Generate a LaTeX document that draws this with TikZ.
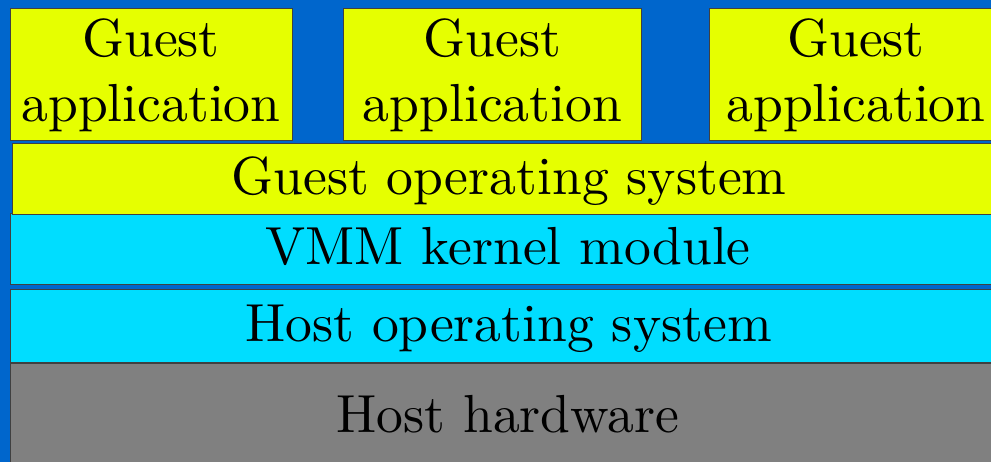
\documentclass[tikz,border=0pt]{standalone}
\usepackage{fontspec}
\setmainfont{lmroman10-regular.otf}
\usepackage{xcolor}
\definecolor{bgblue}{HTML}{0066CC}
\definecolor{guesty}{HTML}{E6FF00}
\definecolor{vmmc}{HTML}{00DDFF}
\definecolor{hwgray}{HTML}{808080}
\begin{document}
\begin{tikzpicture}[x=1pt,y=-1pt,
  layer/.style={draw=black!75, line width=0.8pt, inner sep=0pt},
  guest/.style={layer, fill=guesty},
  vmm/.style={layer, fill=vmmc},
  hw/.style={layer, fill=hwgray},
  lbl/.style={inner sep=0pt, anchor=base, font=\fontsize{53.6}{64}\selectfont}]
\useasboundingbox (0,0) rectangle (991,462);
\clip (0,0) rectangle (991,462);
\fill[bgblue] (0,0) rectangle (991,462);
% boxes
\node[guest, minimum width=282, minimum height=132] (app1) at (151,74) {};
\node[guest, minimum width=298, minimum height=132] (app2) at (492,74) {};
\node[guest, minimum width=294, minimum height=132] (app3) at (856,74) {};
\node[vmm, minimum width=998, minimum height=71] (vmm) at (509,248.5) {};
\node[guest, minimum width=994, minimum height=71] (gos) at (509,178.5) {};
\node[vmm, minimum width=998, minimum height=73] (hos) at (509,325.5) {};
\node[hw, minimum width=998, minimum height=102] (hw) at (509,414) {};
% labels
\node[lbl] (app1a) at (151,57) {Guest};
\node[lbl] (app1b) at (151,122) {application};
\node[lbl] (app2a) at (492.5,57) {Guest};
\node[lbl] (app2b) at (492.5,122) {application};
\node[lbl] (app3a) at (856,57) {Guest};
\node[lbl] (app3b) at (856,122) {application};
\node[lbl] (gost) at (509,195) {Guest operating system};
\node[lbl] (vmmt) at (508,265) {VMM kernel module};
\node[lbl] (host) at (508.5,342) {Host operating system};
\node[lbl] (hwt) at (508,432) {Host hardware};
\end{tikzpicture}
\end{document}
